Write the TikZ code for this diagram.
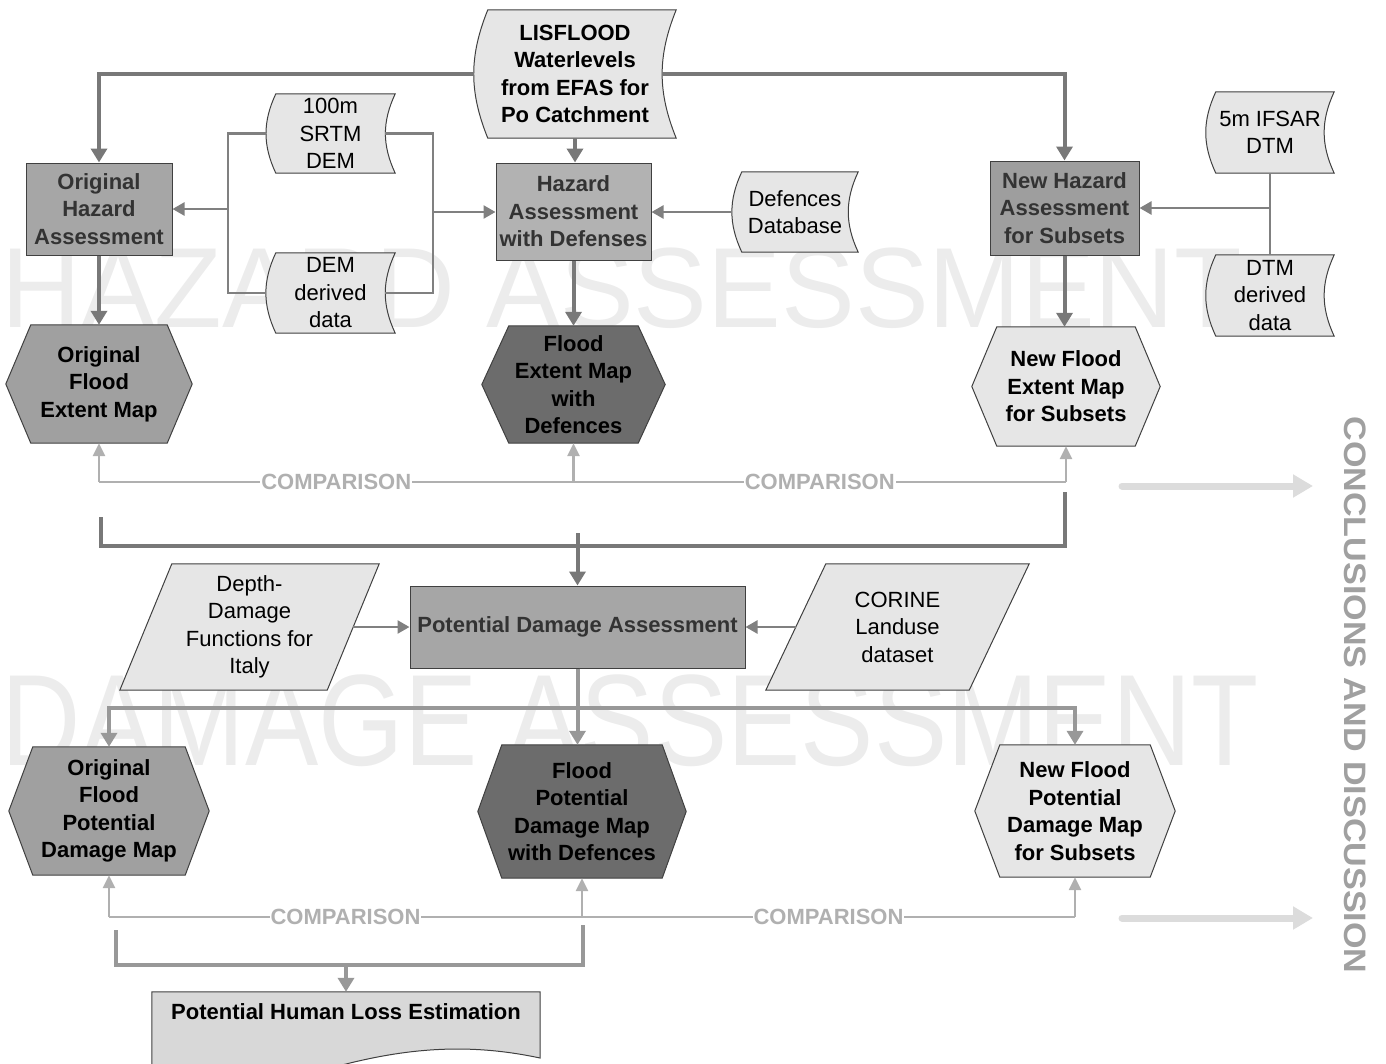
\documentclass[tikz,border=0pt]{standalone}
\usepackage{fontspec}
\setmainfont{Liberation Sans}
\usetikzlibrary{arrows.meta,calc}

\definecolor{wmark}{RGB}{236,236,236}
\definecolor{cLight}{RGB}{230,230,230}
\definecolor{cDoc}{RGB}{216,216,216}
\definecolor{cMid}{RGB}{160,160,160}
\definecolor{cDark}{RGB}{108,108,108}
\definecolor{boxa}{RGB}{166,166,166}
\definecolor{boxb}{RGB}{178,178,178}
\definecolor{boxc}{RGB}{158,158,158}
\definecolor{feedgray}{RGB}{120,120,120}
\definecolor{feedlite}{RGB}{152,152,152}
\definecolor{thingray}{RGB}{128,128,128}
\definecolor{cmpgray}{RGB}{176,176,176}
\definecolor{biggray}{RGB}{220,220,220}

\newcommand{\boxfont}{\fontsize{22}{27.5}\selectfont}

\pgfdeclarelayer{back}
\pgfsetlayers{back,main}

\begin{document}
\begin{tikzpicture}[x=1pt,y=-1pt,
    every node/.style={inner sep=0pt,align=center,font=\boxfont},
    proc/.style={draw=black!75,line width=1pt,fill=#1,font=\boxfont\bfseries,text=black!80},
    bold/.style={font=\boxfont\bfseries},
    shapeline/.style={draw=black!75,line width=1pt},
    feed/.style={draw=feedgray,line width=4pt,>={Triangle[width=16pt,length=14pt]}},
    feedb/.style={draw=feedlite,line width=4pt,>={Triangle[width=16pt,length=14pt]}},
    thin/.style={draw=thingray,line width=2.5pt,>={Triangle[width=13pt,length=12pt]}},
    cmp/.style={draw=cmpgray,line width=2.5pt,>={Triangle[width=12pt,length=13pt]}},
    cmptext/.style={fill=white,text=cmpgray,font=\boxfont\bfseries,inner xsep=1pt},
    big/.style={draw=biggray,line width=7pt,line cap=round,>={Triangle[width=22pt,length=20pt]}}
]
\useasboundingbox (0,0) rectangle (1386,1063);

% watermarks
\begin{pgfonlayer}{back}
    \node[anchor=base west,text=wmark,font=\fontsize{114}{114}\selectfont] (wmh) at (1,327) {\scalebox{0.97}[1]{HAZARD ASSESSMENT}};
    \node[anchor=base west,text=wmark,font=\fontsize{130}{130}\selectfont] (wmd) at (1,765) {\scalebox{0.845}[1]{DAMAGE ASSESSMENT}};
\end{pgfonlayer}

% hazard assessment
\node[bold,minimum width=202pt,minimum height=128pt] (lis) at (575,74) {LISFLOOD\\Waterlevels\\from EFAS for\\Po Catchment};
\node[minimum width=129pt,minimum height=79pt] (srtm) at (330.5,133.5) {100m\\SRTM\\DEM};
\node[minimum width=129pt,minimum height=80pt] (demd) at (330.5,293) {DEM\\derived\\data};
\node[minimum width=126pt,minimum height=80pt] (defdb) at (795,212) {Defences\\Database};
\node[minimum width=128pt,minimum height=81pt] (ifsar) at (1270,132.5) {5m IFSAR\\DTM};
\node[minimum width=128pt,minimum height=81pt] (dtmd) at (1270,295.5) {DTM\\derived\\data};

\node[proc=boxa,minimum width=146pt,minimum height=92pt] (orig) at (99,209) {Original\\Hazard\\Assessment};
\node[proc=boxb,minimum width=155pt,minimum height=97pt] (hdef) at (573.5,211.5) {Hazard\\Assessment\\with Defenses};
\node[proc=boxc,minimum width=149pt,minimum height=94pt] (hnew) at (1064.5,208) {New Hazard\\Assessment\\for Subsets};

\node[bold,minimum width=186pt,minimum height=118pt] (ofem) at (99,384) {Original\\Flood\\Extent Map};
\node[bold,minimum width=183pt,minimum height=117pt] (fdef) at (573.5,384.5) {Flood\\Extent Map\\with\\Defences};
\node[bold,minimum width=188pt,minimum height=119pt] (fnew) at (1066,386.5) {New Flood\\Extent Map\\for Subsets};

% damage assessment
\node[proc=boxa,minimum width=335pt,minimum height=82pt] (pda) at (577.5,627) {Potential Damage Assessment};
\node[minimum width=207pt,minimum height=126pt] (ddf) at (249.5,627) {Depth-\\Damage\\Functions for\\Italy};
\node[minimum width=203pt,minimum height=126pt] (corine) at (897.5,627) {CORINE\\Landuse\\dataset};

\node[bold,minimum width=200pt,minimum height=128pt] (ofpd) at (109,811) {Original\\Flood\\Potential\\Damage Map};
\node[bold,minimum width=208pt,minimum height=133pt] (fpdef) at (582,811.5) {Flood\\Potential\\Damage Map\\with Defences};
\node[bold,minimum width=200pt,minimum height=132pt] (fpnew) at (1075,811) {New Flood\\Potential\\Damage Map\\for Subsets};

\node[bold,minimum width=388pt,minimum height=40pt] (hle) at (346,1012) {Potential Human Loss Estimation};

\node[rotate=-90,text=cMid,font=\fontsize{31}{31}\selectfont\bfseries] (concl) at (1355,695) {\scalebox{1.1}[1]{CONCLUSIONS AND DISCUSSION}};

% outlines of the symbols
\begin{pgfonlayer}{back}
    \foreach \n/\d/\b in {lis/14/22,srtm/10/25,demd/10/25,defdb/10/25,ifsar/10/25,dtmd/10/25}
        \filldraw[shapeline,fill=cLight] ([xshift=\d pt]\n.north west) -- (\n.north east) to[bend right=\b] (\n.south east) -- ([xshift=\d pt]\n.south west) to[bend left=\b] cycle;
    \foreach \n/\i/\c in {ofem/25/cMid,fdef/27/cDark,fnew/25/cLight,ofpd/24/cMid,fpdef/24/cDark,fpnew/25/cLight}
        \filldraw[shapeline,fill=\c] ([xshift=\i pt]\n.north west) -- ([xshift=-\i pt]\n.north east) -- (\n.east) -- ([xshift=-\i pt]\n.south east) -- ([xshift=\i pt]\n.south west) -- (\n.west) -- cycle;
    \foreach \n/\s in {ddf/26,corine/30}
        \filldraw[shapeline,fill=cLight] ([xshift=\s pt]\n.north west) -- ([xshift=\s pt]\n.north east) -- ([xshift=-\s pt]\n.south east) -- ([xshift=-\s pt]\n.south west) -- cycle;
    \filldraw[shapeline,fill=cDoc] (hle.north west) -- (hle.north east) -- (540,1058) .. controls (470,1043) and (410,1048) .. (346,1064) .. controls (280,1080) and (220,1092) .. (152,1080) -- cycle;
\end{pgfonlayer}

% connectors
\coordinate (jl) at (228,209);
\coordinate (jr) at (433,212);
\coordinate (j1) at (101,517);
\coordinate (j2) at (1065,492);
\coordinate (g1) at (0,546);
\coordinate (c1) at (0,482);
\coordinate (g2) at (0,708);
\coordinate (c2) at (0,917);
\coordinate (k1) at (116,930);
\coordinate (k2) at (583,925);
\coordinate (g3) at (0,965);

\draw[feed,->] (lis.west) -| (orig.north);
\draw[feed,->] ([xshift=-14pt]lis.east) -| (hnew.north);
\draw[feed,->] (lis.south) -- (lis.south |- hdef.north);

\draw[thin] (srtm.west) -| (jl) |- (demd.west);
\draw[thin,->] (jl) -- (orig.east);
\draw[thin] ([xshift=-10pt]srtm.east) -| (jr) |- ([xshift=-10pt]demd.east);
\draw[thin,->] (jr) -- (jr -| hdef.west);
\draw[thin,->] (defdb.west) -- (defdb.west -| hdef.east);
\draw[thin] (ifsar.south) -- (dtmd.north);
\draw[thin,->] (ifsar.south |- hnew.east) -- (hnew.east);

\draw[feed,->] (orig.south) -- (ofem.north);
\draw[feed,->] (hdef.south) -- (fdef.north);
\draw[feed,->] (hnew.south) -- (hnew.south |- fnew.north);

\draw[cmp] (ofem.south |- c1) -- node[cmptext] {COMPARISON} (fdef.south |- c1) -- node[cmptext] {COMPARISON} (fnew.south |- c1);
\foreach \n in {ofem,fdef,fnew}
    \draw[cmp,->] (\n.south |- c1) -- (\n.south);

\draw[feed] (j1) |- (j2 |- g1) -- (j2);
\draw[feed,->] (pda.north |- 0,533) -- (pda.north);

\draw[thin,->] (ddf.east) -- (pda.west);
\draw[thin,->] (corine.west) -- (pda.east);

\draw[feedb] (pda.south) -- (pda.south |- g2);
\draw[feedb,->] (pda.south |- g2) -| (ofpd.north);
\draw[feedb,->] (pda.south |- g2) -| (fpnew.north);
\draw[feedb,->] (pda.south) -- (pda.south |- fpdef.north);

\draw[cmp] (ofpd.south |- c2) -- node[cmptext] {COMPARISON} (fpdef.south |- c2) -- node[cmptext] {COMPARISON} (fpnew.south |- c2);
\foreach \n in {ofpd,fpdef,fpnew}
    \draw[cmp,->] (\n.south |- c2) -- (\n.south);

\draw[feedb] (k1) |- (k2 |- g3) -- (k2);
\draw[feedb,->] (hle.north |- g3) -- (hle.north);

% towards conclusions
\coordinate (a1) at (1122,486);
\coordinate (a2) at (1313,486);
\coordinate (a3) at (1122,918);
\coordinate (a4) at (1313,918);
\draw[big,->] (a1) -- (a2);
\draw[big,->] (a3) -- (a4);
\end{tikzpicture}
\end{document}
